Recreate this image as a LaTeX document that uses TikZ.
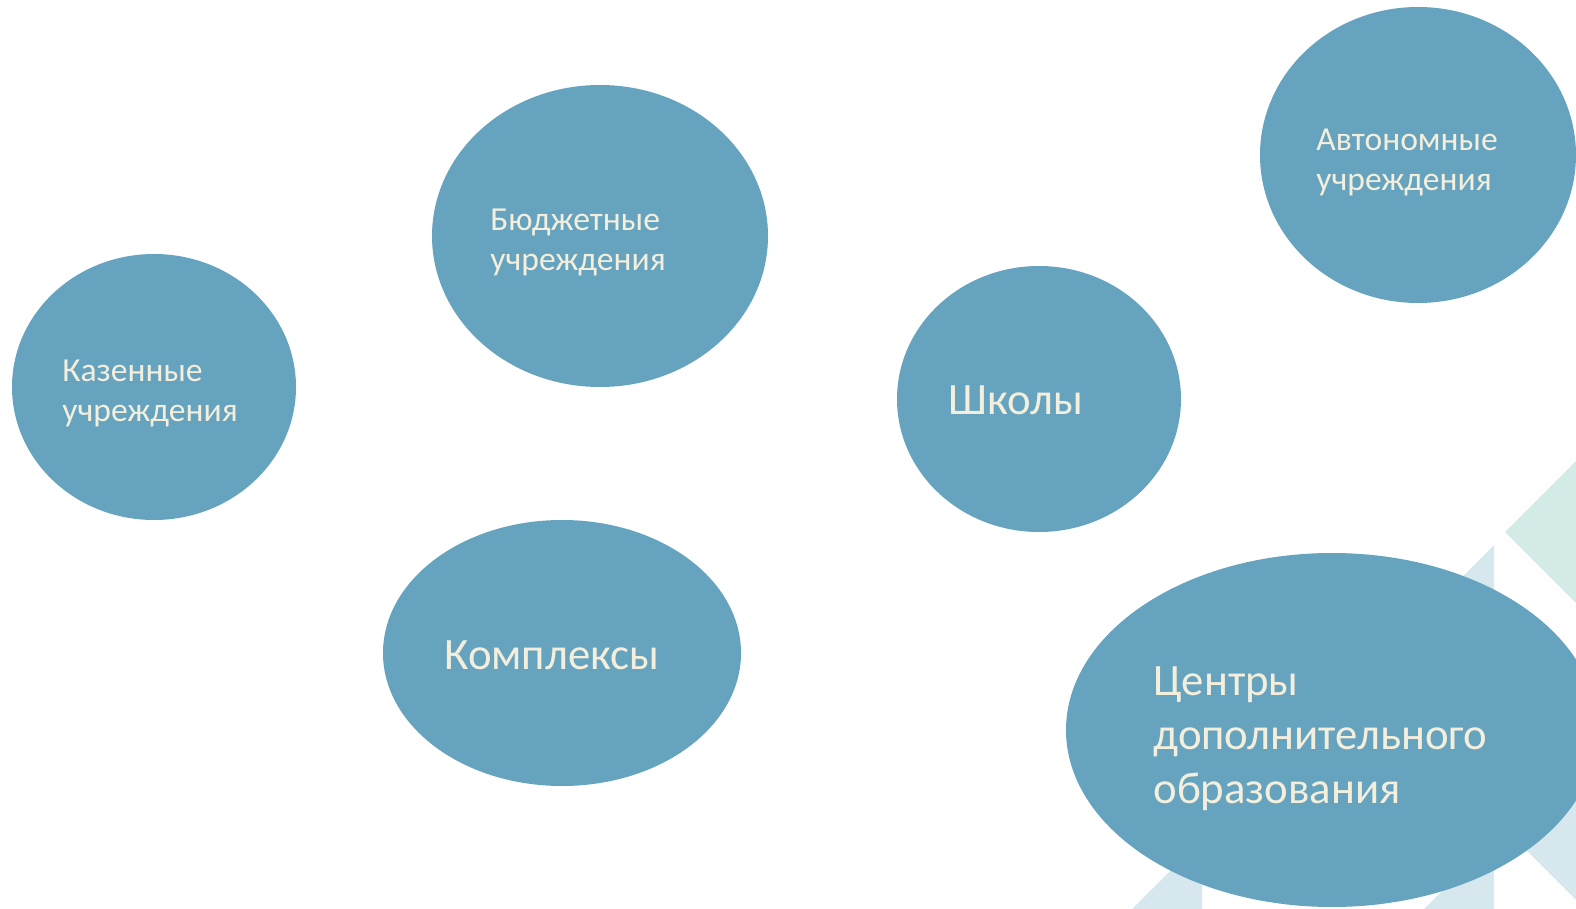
\documentclass[tikz,border=0pt]{standalone}
\usepackage{fontspec}
\setmainfont{Carlito}
\usetikzlibrary{shapes.geometric}
\definecolor{bubblefill}{HTML}{66A3BF}
\definecolor{bubbletext}{HTML}{F4EFDC}
\definecolor{facetgreen}{HTML}{D4EAE6}
\definecolor{facetblue}{HTML}{D6E8EE}

\begin{document}
\begin{tikzpicture} [x=0.5pt, y=-0.5pt,
  bubble/.style={ellipse, fill=bubblefill, draw=none, inner sep=0pt},
  smalltxt/.style={anchor=west, align=left, text=bubbletext, inner sep=0pt,
    font=\fontsize{16.8}{20}\selectfont},
  bigtxt/.style={anchor=west, align=left, text=bubbletext, inner sep=0pt,
    font=\fontsize{22.4}{27}\selectfont}]
    \useasboundingbox (0,0) rectangle (1576,909);

    % background facets
    \fill[facetgreen] (1505,532) -- (1576,461) -- (1576,603) -- cycle;
    \fill[facetblue] (1494,545) -- (1494,660) -- (1379,660) -- cycle;
    \fill[facetblue] (1202,839) -- (1202,909) -- (1132,909) -- cycle;
    \fill[facetblue] (1494,839) -- (1494,909) -- (1424,909) -- cycle;
    \fill[facetblue] (1486,810) -- (1576,720) -- (1576,900) -- cycle;

    % bubbles
    \node[bubble, minimum width=142pt, minimum height=133pt] (kaz) at (154,387) {};
    \node[bubble, minimum width=168pt, minimum height=151pt] (byud) at (600,236) {};
    \node[bubble, minimum width=179pt, minimum height=133pt] (kompl) at (562,653) {};
    \node[bubble, minimum width=142pt, minimum height=133pt] (shkol) at (1039,399) {};
    \node[bubble, minimum width=158pt, minimum height=148pt] (avton) at (1418,155) {};
    \node[bubble, minimum width=266pt, minimum height=177pt] (centr) at (1332,730) {};

    % labels
    \node[smalltxt] (kazT) at (62,393) {Казенные\\учреждения};
    \node[smalltxt] (byudT) at (490,242) {Бюджетные\\учреждения};
    \node[smalltxt] (avtonT) at (1316,162) {Автономные\\учреждения};
    \node[bigtxt, anchor=base west] (komplT) at (444,669) {Комплексы};
    \node[bigtxt, anchor=base west] (shkolT) at (948,415) {Школы};
    \node[bigtxt] (centrT) at (1153,739) {Центры\\дополнительного\\образования};
\end{tikzpicture}
\end{document}
